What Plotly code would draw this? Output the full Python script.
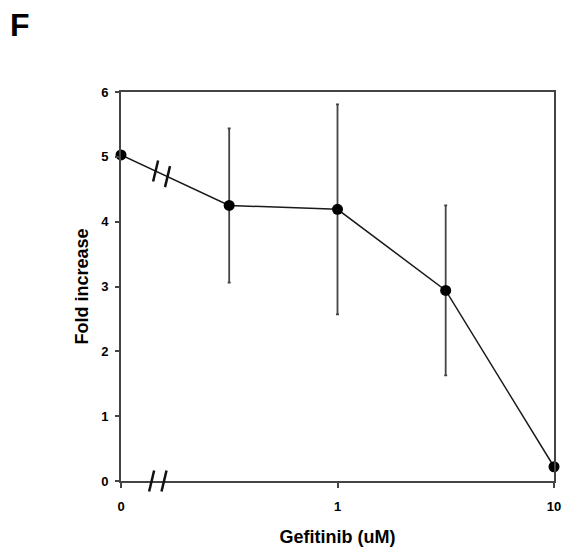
import math
import plotly.graph_objects as go

# Data
dose_labels = ["0", "0.316", "1", "3.16", "10"]
dose_values = [0, 0.316, 1, 3.16, 10]
fold_increase = [5.03, 4.25, 4.19, 2.94, 0.22]
fold_error = [0, 1.19, 1.62, 1.31, 0]
tick_values = [0, 1, 10]
tick_labels = ["0", "1", "10"]

ZERO_POS = 0.1  # position on log axis where "0" is drawn
X_RANGE = [-1, 1]
Y_RANGE = [0, 6]
x_plot = [ZERO_POS if d == 0 else d for d in dose_values]
tick_pos = [ZERO_POS if t == 0 else t for t in tick_values]


def px(xd):
    return (math.log10(xd) - X_RANGE[0]) / (X_RANGE[1] - X_RANGE[0])


def py(yd):
    return (yd - Y_RANGE[0]) / (Y_RANGE[1] - Y_RANGE[0])


fig = go.Figure()
fig.add_trace(go.Scatter(
    x=x_plot, y=fold_increase,
    mode="lines+markers",
    line=dict(color="#1a1a1a", width=1.5),
    marker=dict(color="black", size=11),
    error_y=dict(type="data", array=fold_error, visible=True,
                 color="#444444", thickness=1.8, width=1.5),
    showlegend=False,
    cliponaxis=False,
))

# axis break marks ("//")
shapes = []


def slash(xd, yd):
    return dict(type="line", xref="paper", yref="paper",
                xsizemode="pixel", xanchor=px(xd), x0=-2.5, x1=2.5,
                ysizemode="pixel", yanchor=py(yd), y0=-10.5, y1=10.5,
                line=dict(color="#111111", width=2.5))


for xb in [0.1385, 0.158]:
    shapes.append(slash(xb, 0))

lx0, lx1 = math.log10(x_plot[0]), math.log10(x_plot[1])
for xb in [0.1445, 0.164]:
    t = (math.log10(xb) - lx0) / (lx1 - lx0)
    yb = fold_increase[0] + t * (fold_increase[1] - fold_increase[0])
    shapes.append(slash(xb, yb))

fig.update_layout(
    width=564, height=548,
    margin=dict(l=121, r=10, t=92, b=67, autoexpand=False),
    paper_bgcolor="white", plot_bgcolor="white",
    font=dict(family="Liberation Sans, Arial, sans-serif", color="black"),
    shapes=shapes,
    xaxis=dict(
        type="log", range=X_RANGE, automargin=False,
        tickvals=tick_pos, ticktext=tick_labels,
        ticks="outside", ticklen=5, tickwidth=2, tickcolor="#444444",
        ticklabelstandoff=7,
        showline=True, linecolor="#444444", linewidth=2, mirror=True,
        showgrid=False, zeroline=False,
        tickfont=dict(size=13, weight="bold"),
        title=dict(text="<b>Gefitinib (uM)</b>", font=dict(size=18), standoff=18),
    ),
    yaxis=dict(
        range=Y_RANGE, automargin=False,
        tickvals=[0, 1, 2, 3, 4, 5, 6],
        ticks="outside", ticklen=4, tickwidth=2, tickcolor="#444444",
        ticklabelstandoff=4,
        showline=True, linecolor="#444444", linewidth=2, mirror=True,
        showgrid=False, zeroline=False,
        tickfont=dict(size=13, weight="bold"),
        title=dict(text="<b>Fold increase</b>", font=dict(size=18), standoff=8),
    ),
    annotations=[dict(text="<b>F</b>", xref="paper", yref="paper",
                      x=-0.233, y=1.172, xanchor="center", yanchor="middle",
                      showarrow=False, font=dict(size=32, color="black"))],
)

fig.write_html(
    "out.html",
    config={"displayModeBar": False},
    post_script="document.body.style.margin='0';document.body.style.overflow='hidden';",
)
